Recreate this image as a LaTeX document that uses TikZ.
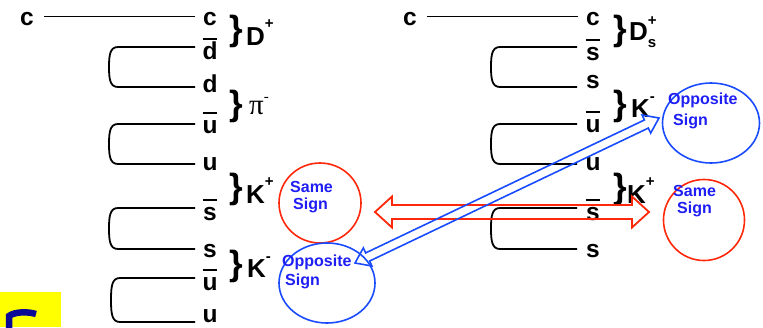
\documentclass[tikz,border=0pt]{standalone}
\usepackage{fontspec}
\setmainfont{Liberation Sans}
\newfontfamily\serifpi{Liberation Serif}
\usetikzlibrary{calc,shapes.geometric}
\definecolor{txtblue}{RGB}{30,30,245}
\definecolor{cred}{RGB}{255,40,10}
\definecolor{cblue}{RGB}{25,75,255}
\definecolor{navyglyph}{RGB}{10,10,150}
\definecolor{yellowbox}{RGB}{255,255,0}
\newcommand\qbar[1]{\leavevmode\setbox0\hbox{#1}\rlap{\raisebox{0.78em}{\rule{\wd0}{1.8pt}}}\box0}
\newcommand\supx[2]{\raisebox{#1}{\fontsize{15}{15}\selectfont #2}}
\newcommand\qloop[4]{\draw[qline] (#1,#3) -- (#2+9,#3) .. controls (#2+1,#3) and (#2,#3+8) .. (#2,{(#3+#4)/2}) .. controls (#2,#4-8) and (#2+1,#4) .. (#2+9,#4) -- (#1,#4);}
\newcommand\hollowarrow[6]{%
 \coordinate (ha1) at ($(#2)!#4!(#3)$);
 \coordinate (ha2) at ($(#3)!#4!(#2)$);
 \draw[#1] (#2) -- ($(ha1)!#5!90:(#3)$) -- ($(ha1)!#6!90:(#3)$) -- ($(ha2)!#6!-90:(#2)$) -- ($(ha2)!#5!-90:(#2)$) -- (#3) -- ($(ha2)!#5!90:(#2)$) -- ($(ha2)!#6!90:(#2)$) -- ($(ha1)!#6!-90:(#3)$) -- ($(ha1)!#5!-90:(#3)$) -- cycle;}
\begin{document}
\begin{tikzpicture}[x=1pt,y=-1pt,
 quark/.style={font=\fontsize{24.5}{24.5}\selectfont\bfseries, inner sep=0pt, anchor=base},
 bracebox/.style={font=\fontsize{35}{35}\selectfont\bfseries, inner sep=0pt},
 meson/.style={font=\fontsize{26}{26}\selectfont\bfseries, inner sep=0pt, anchor=base west},
 signtext/.style={font=\fontsize{16}{16}\selectfont\bfseries, text=txtblue, inner sep=0pt, anchor=base west},
 qline/.style={line width=1.8pt, black},
 redring/.style={draw=cred, line width=1.6pt, ellipse, inner sep=0pt},
 bluering/.style={draw=cblue, line width=1.6pt, ellipse, inner sep=0pt},
 redarrow/.style={draw=cred, line width=1.8pt, line join=miter},
 bluearrow/.style={draw=cblue, line width=1.6pt, line join=miter}]
\useasboundingbox (0,0) rectangle (763,327);
\fill[white] (0,0) rectangle (763,327);
% yellow box
\fill[yellowbox] (0,292) rectangle (61,327);
\draw[navyglyph, line width=6.5pt] (9,328) -- (9,316) .. controls (15,311.5) and (28,311.5) .. (36,314);
% ---------- left column ----------
\node[quark] (lc0) at (27,25) {c};
\node[quark] (lq1) at (210,25) {c};
\node[quark] (lq2) at (210,59) {\qbar{d}};
\node[quark] (lq3) at (210,92) {d};
\node[quark] (lq4) at (210,133) {\qbar{u}};
\node[quark] (lq5) at (210,170) {u};
\node[quark] (lq6) at (210,220) {\qbar{s}};
\node[quark] (lq7) at (210,257) {s};
\node[quark] (lq8) at (210,290) {\qbar{u}};
\node[quark] (lq9) at (210,322) {u};
\draw[qline] ([xshift=10pt,yshift=2pt]lc0.east) -- ([xshift=-8pt,yshift=2pt]lq1.west);
\qloop{195}{109}{47}{87}
\qloop{195}{109}{124}{164}
\qloop{195}{109}{208}{249}
\qloop{195}{111}{278}{322}
\node[bracebox] (lb1) at (236,31.5) {\}};
\node[bracebox] (lb2) at (236,106.5) {\}};
\node[bracebox] (lb3) at (236,189) {\}};
\node[bracebox] (lb4) at (236,266.5) {\}};
\node[meson] (lm1) at (246,45) {D\supx{16.5pt}{+}};
\node[anchor=base west, inner sep=0pt] (lm2) at (249,114) {\fontsize{29}{29}\selectfont\serifpi π\supx{13pt}{-}};
\node[meson] (lm3) at (246,203) {K\supx{16.5pt}{+}};
\node[meson] (lm4) at (247,277) {K\supx{16pt}{-}};
% ---------- right column ----------
\node[quark] (rc0) at (410,25) {c};
\node[quark] (rq1) at (593,25) {c};
\node[quark] (rq2) at (593,60) {\qbar{s}};
\node[quark] (rq3) at (593,88) {s};
\node[quark] (rq4) at (593,132) {\qbar{u}};
\node[quark] (rq5) at (593,170) {u};
\node[quark] (rq6) at (593,220) {\qbar{s}};
\node[quark] (rq7) at (593,257) {s};
\draw[qline] ([xshift=10pt,yshift=2pt]rc0.east) -- ([xshift=-8pt,yshift=2pt]rq1.west);
\qloop{577}{491}{47}{87}
\qloop{577}{491}{124}{164}
\qloop{577}{491}{208}{249}
\node[bracebox] (rb1) at (620,31.5) {\}};
\node[bracebox] (rb2) at (620,106.5) {\}};
\node[bracebox] (rb3) at (620,189) {\}};
\node[meson] (rm1) at (629,40) {D\rlap{\raisebox{-7pt}{\fontsize{15}{15}\selectfont s}}\supx{15pt}{+}};
\node[meson] (rm2) at (631,117) {K\supx{16pt}{-}};
\node[meson] (rm3) at (627,203) {K\supx{16.5pt}{+}};
% ---------- circles ----------
\node[redring, minimum width=82pt, minimum height=80pt] (same1) at (320,203) {};
\node[bluering, minimum width=96pt, minimum height=80pt] (opp1) at (327,283) {};
\node[bluering, minimum width=97pt, minimum height=80pt] (opp2) at (711,123) {};
\node[redring, minimum width=81pt, minimum height=81pt] (same2) at (704,220) {};
\node[signtext] (t1) at (290,192) {Same};
\node[signtext] (t2) at (293,209) {Sign};
\node[signtext] (t3) at (282,266) {Opposite};
\node[signtext] (t4) at (285,285) {Sign};
\node[signtext] (t5) at (668,104) {Opposite};
\node[signtext] (t6) at (673,125) {Sign};
\node[signtext] (t7) at (673,196) {Same};
\node[signtext] (t8) at (677,213) {Sign};
% ---------- arrows ----------
\coordinate (ra) at (375,212);
\coordinate (rb) at (649,212);
\hollowarrow{redarrow}{ra}{rb}{17pt}{15.5pt}{7pt}
\coordinate (ba) at (355,263);
\coordinate (bb) at (659,118);
\hollowarrow{bluearrow}{ba}{bb}{14pt}{10pt}{4.5pt}
\end{tikzpicture}
\end{document}
